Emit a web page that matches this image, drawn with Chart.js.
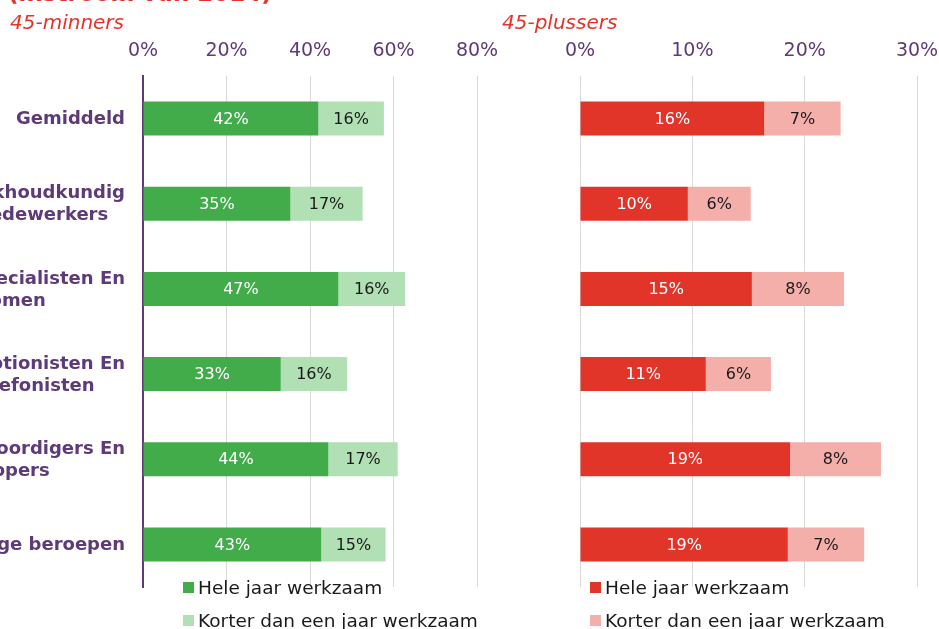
<!DOCTYPE html>
<html lang="nl">
<head>
  <meta charset="UTF-8">
  <title>Instroom 45-minners en 45-plussers</title>
  <script src="https://cdn.jsdelivr.net/npm/chart.js"></script>
  <style>
    body {
      margin: 0;
      width: 939px;
      height: 629px;
      overflow: hidden;
      position: relative;
      background: #fff;
      font-family: 'DejaVu Sans', Verdana, sans-serif;
    }
    #title {
      position: absolute;
      left: 8px;
      top: -18px;
      font-size: 23px;
      line-height: 23px;
      font-weight: bold;
      color: #e3342b;
      white-space: nowrap;
    }
    #minChart { position: absolute; left: -200px; top: 0; }
    #plusChart { position: absolute; left: 502px; top: 0; }
    .legend {
      position: absolute;
      top: 571px;
      list-style: none;
      margin: 0;
      padding: 0;
      font-size: 18.5px;
      color: #1a1a1a;
    }
    .legend li { display: flex; align-items: center; height: 33px; white-space: nowrap; }
    .legend span { display: inline-block; width: 11px; height: 11px; margin-right: 4px; }
  </style>
</head>
<body>
  <div id="title">(instroom van 2014)</div>
  <canvas id="minChart" width="717" height="629"></canvas>
  <canvas id="plusChart" width="455" height="629"></canvas>
  <ul class="legend" id="minLegend" style="left:183px"></ul>
  <ul class="legend" id="plusLegend" style="left:590px"></ul>
  <script>
    // data
    const categories = [
      'Gemiddeld',
      ['Boekhoudkundig', 'medewerkers'],
      ['Financieel specialisten En', 'economen'],
      ['Receptionisten En', 'telefonisten'],
      ['Vertegenwoordigers En', 'inkopers'],
      'Overige beroepen'
    ];
    const seriesNames = ['Hele jaar werkzaam', 'Korter dan een jaar werkzaam'];
    const minHeleJaar = [42.0, 35.3, 46.8, 33.0, 44.4, 42.7];
    const minKorter = [15.7, 17.3, 16.0, 15.9, 16.6, 15.4];
    const plusHeleJaar = [16.4, 9.6, 15.3, 11.2, 18.7, 18.5];
    const plusKorter = [6.8, 5.6, 8.2, 5.8, 8.1, 6.8];
    const minTicks = { max: 80, step: 20 };
    const plusTicks = { max: 30, step: 10 };

    const purple = '#5e3a78';
    const red = '#e3342b';
    const gridColor = '#d9d9d9';

    Chart.defaults.font.family = "'DejaVu Sans', Verdana, sans-serif";

    // waarden in de balken
    const barLabels = {
      id: 'barLabels',
      afterDatasetsDraw(chart) {
        const ctx = chart.ctx;
        ctx.save();
        ctx.font = "16px 'DejaVu Sans'";
        ctx.textAlign = 'center';
        ctx.textBaseline = 'middle';
        chart.data.datasets.forEach((ds, i) => {
          chart.getDatasetMeta(i).data.forEach((bar, j) => {
            ctx.fillStyle = i === 0 ? '#ffffff' : '#1a1a1a';
            ctx.fillText(Math.round(ds.data[j]) + '%', (bar.x + bar.base) / 2, bar.y + 1);
          });
        });
        ctx.restore();
      }
    };

    // categorie-labels, per label gecentreerd (zoals Excel)
    const categoryLabels = {
      id: 'categoryLabels',
      afterDraw(chart) {
        const ctx = chart.ctx;
        const yScale = chart.scales.y;
        const right = chart.chartArea.left - 18;
        const lh = 22;
        ctx.save();
        ctx.font = "bold 18px 'DejaVu Sans'";
        ctx.fillStyle = purple;
        ctx.textAlign = 'center';
        ctx.textBaseline = 'middle';
        chart.data.labels.forEach((label, i) => {
          const lines = Array.isArray(label) ? label : [label];
          const w = Math.max(...lines.map(l => ctx.measureText(l).width));
          const y = yScale.getPixelForValue(i) + 1;
          lines.forEach((line, k) => {
            ctx.fillText(line, right - w / 2, y + (k - (lines.length - 1) / 2) * lh);
          });
        });
        ctx.restore();
      }
    };

    function makeChart(id, title, values, colors, ticks, opts) {
      const ctx = document.getElementById(id).getContext('2d');
      return new Chart(ctx, {
        type: 'bar',
        data: {
          labels: categories,
          datasets: values.map((v, i) => ({
            label: seriesNames[i],
            data: v,
            backgroundColor: colors[i],
            borderWidth: 0,
            barPercentage: 0.4,
            categoryPercentage: 1.0
          }))
        },
        options: {
          indexAxis: 'y',
          responsive: false,
          animation: false,
          layout: { padding: opts.padding },
          plugins: {
            legend: { display: false },
            tooltip: { enabled: false },
            title: {
              display: true,
              text: title,
              align: 'start',
              color: red,
              font: { size: 20, style: 'italic', weight: 'normal' },
              padding: { top: 12, bottom: 0 }
            }
          },
          scales: {
            x: {
              position: 'top',
              stacked: true,
              min: 0,
              max: ticks.max,
              ticks: {
                stepSize: ticks.step,
                color: purple,
                font: { size: 19 },
                padding: 14,
                callback: v => v + '%'
              },
              grid: { color: gridColor, drawTicks: false },
              border: { display: false },
              afterFit: s => { s.height = 40; }
            },
            y: {
              stacked: true,
              ticks: { display: false },
              grid: { display: false },
              border: opts.axisLine ? { color: purple, width: 2 } : { display: false },
              afterFit: s => { s.width = opts.yWidth; }
            }
          }
        },
        plugins: opts.plugins
      });
    }

    const minChart = makeChart('minChart', '45-minners', [minHeleJaar, minKorter],
      ['#42ac4b', '#b1e0b5'], minTicks,
      { padding: { left: 210, right: 40, top: 0, bottom: 42 }, yWidth: 133, axisLine: true, plugins: [barLabels, categoryLabels] });

    const plusChart = makeChart('plusChart', '45-plussers', [plusHeleJaar, plusKorter],
      ['#e2352a', '#f4afab'], plusTicks,
      { padding: { left: 0, right: 40, top: 0, bottom: 42 }, yWidth: 78, axisLine: false, plugins: [barLabels] });

    // legenda onder elke grafiek
    function buildLegend(chart, id) {
      const ul = document.getElementById(id);
      chart.data.datasets.forEach(ds => {
        const li = document.createElement('li');
        const box = document.createElement('span');
        box.style.background = ds.backgroundColor;
        li.appendChild(box);
        li.appendChild(document.createTextNode(ds.label));
        ul.appendChild(li);
      });
    }
    buildLegend(minChart, 'minLegend');
    buildLegend(plusChart, 'plusLegend');
  </script>
</body>
</html>
